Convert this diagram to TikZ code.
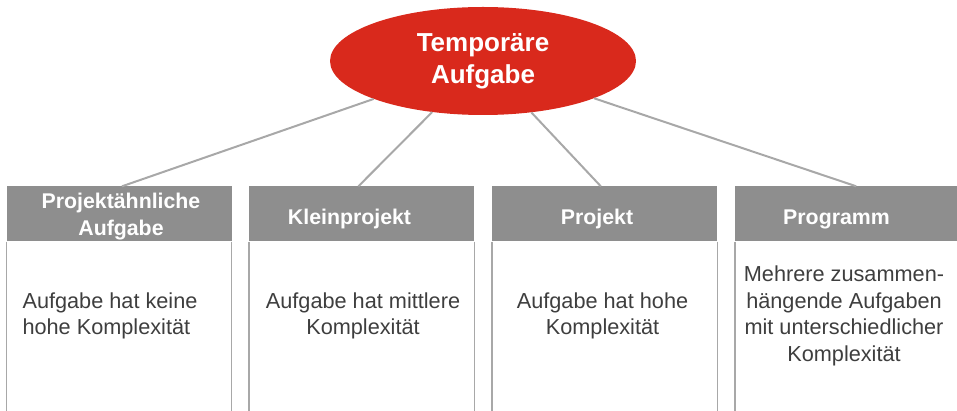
\documentclass[tikz,border=0pt]{standalone}
\usepackage{fontspec}
\setmainfont{Liberation Sans}
\usepackage{tikz}
\usetikzlibrary{shapes,positioning}
\definecolor{taskred}{RGB}{217,41,28}
\definecolor{headgray}{RGB}{142,142,142}
\definecolor{linegray}{RGB}{168,168,168}
\definecolor{textgray}{RGB}{62,62,62}

\begin{document}
\begin{tikzpicture}[x=1pt, y=-1pt,
    head/.style={fill=headgray, minimum width=225pt, minimum height=55pt, inner sep=0pt},
    headtext/.style={text=white, font=\fontsize{21.3}{26.7}\selectfont\bfseries, inner sep=0pt, align=center},
    body/.style={text=textgray, font=\fontsize{21.7}{26.6}\selectfont, inner sep=0pt, align=center},
    side/.style={draw=linegray, line width=1.5pt},
    link/.style={draw=linegray, line width=2pt}]
    \useasboundingbox (0,0) rectangle (957,411);

    % Top task
    \node[ellipse, fill=taskred, text=white, font=\fontsize{26}{32}\selectfont\bfseries,
        minimum width=306pt, minimum height=108pt, inner sep=0pt, align=center]
        (task) at (483,61) {Temporäre\\Aufgabe};

    % Column heads
    \node[head] (head1) at (119,214) {};
    \node[head, right=17.5pt of head1] (head2) {};
    \node[head, right=17.5pt of head2] (head3) {};
    \node[head, right=17.5pt of head3] (head4) {};

    \node[headtext] (title1) at (121,216.2) {Projektähnliche\\Aufgabe};
    \node[headtext, anchor=base] (title2) at (349.5,224.3) {Kleinprojekt};
    \node[headtext, anchor=base] (title3) at (597,224.3) {Projekt};
    \node[headtext, anchor=base] (title4) at (836.5,224.3) {Programm};

    % Column bodies
    \foreach \col/\dx in {1/3,2/-3.5,3/-4,4/8.5} {
        \draw[side] (head\col.south west) -- ++(0,200);
        \draw[side] (head\col.south east) -- ++(0,200);
        \draw[link] (task) -- ([xshift=\dx pt]head\col.north);
    }

    \node[body, align=left] (text1) at (110,316) {Aufgabe hat keine\\hohe Komplexität};
    \node[body] (text2) at (363,316) {Aufgabe hat mittlere\\Komplexität};
    \node[body] (text3) at (602.5,316) {Aufgabe hat hohe\\Komplexität};
    \node[body] (text4) at (844,316) {Mehrere zusammen-\\hängende Aufgaben\\mit unterschiedlicher\\Komplexität};
\end{tikzpicture}
\end{document}
